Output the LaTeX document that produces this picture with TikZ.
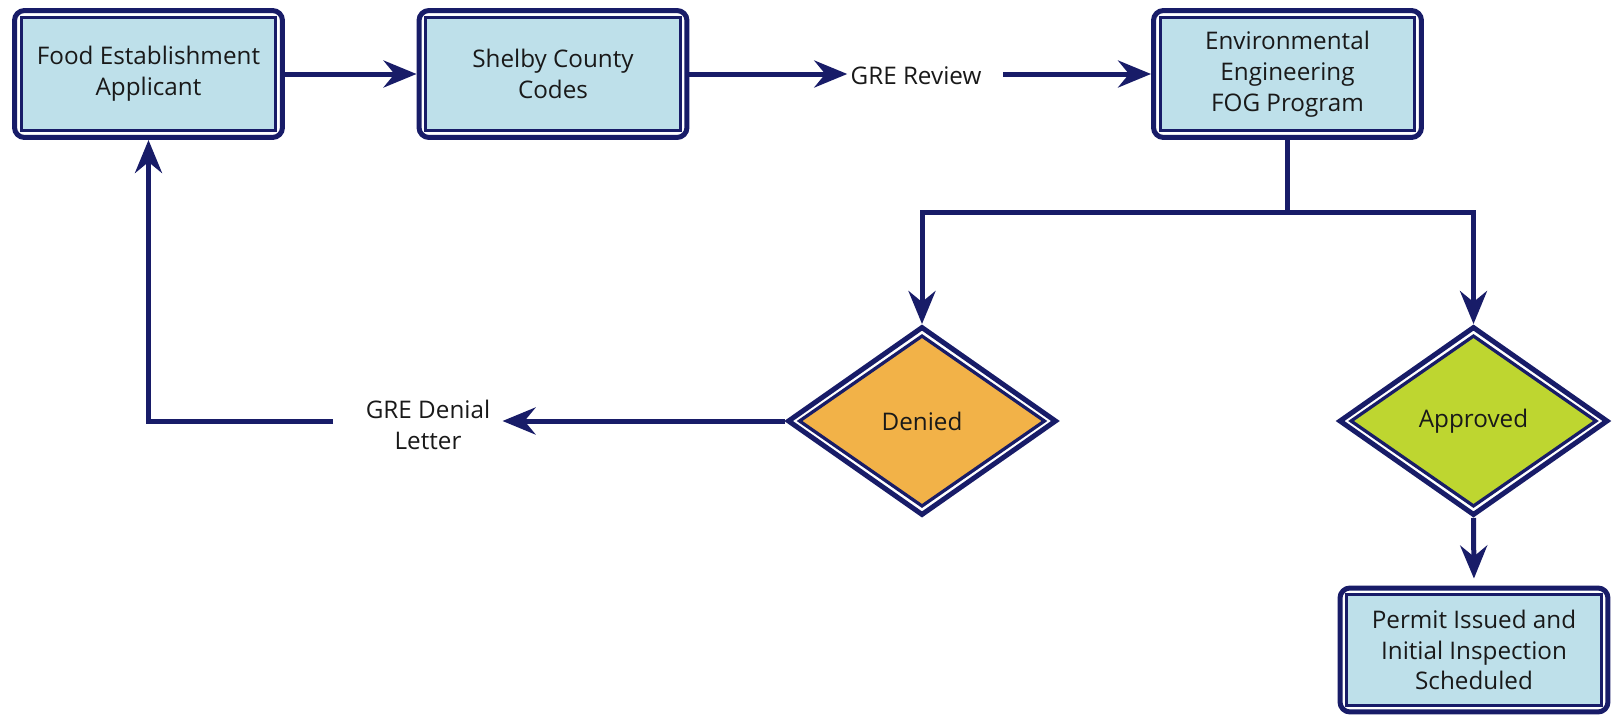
\documentclass[tikz,border=0pt]{standalone}
\usepackage{fontspec}
\setmainfont{Open Sans}
\usetikzlibrary{shapes.geometric,arrows.meta,calc}
\definecolor{navy}{RGB}{24,28,104}
\definecolor{boxblue}{RGB}{190,224,234}
\definecolor{deniedor}{RGB}{242,178,72}
\definecolor{approvedgr}{RGB}{190,214,48}
\definecolor{txt}{RGB}{25,25,25}
\begin{document}
\begin{tikzpicture}[x=0.02cm,y=-0.02cm,
  font=\fontsize{13.8}{17.5}\selectfont, text=txt,
  conn/.style={navy, line width=0.1cm},
  arr/.style={conn, -{Stealth[length=0.66cm,width=0.54cm,inset=0.22cm]}},
  lbl/.style={align=center, inner sep=0.06cm},
  procbox/.style={rectangle, rounded corners=0.2cm, draw=navy, line width=0.1cm, fill=white,
    minimum width=5.36cm, minimum height=2.54cm, align=center, inner sep=0pt,
    path picture={\draw[navy, line width=0.06cm, fill=boxblue, sharp corners]
      ([shift={(0.13cm,-0.13cm)}]path picture bounding box.north west) rectangle
      ([shift={(-0.13cm,0.13cm)}]path picture bounding box.south east);}},
  decision/.style={diamond, draw=navy, line width=0.1cm, fill=white, aspect=1.42,
    minimum width=5.38cm, minimum height=3.78cm, inner sep=0pt, align=center,
    path picture={\draw[navy, line width=0.065cm, fill=#1]
      ([xshift=0.22cm]path picture bounding box.west) --
      ([yshift=-0.17cm]path picture bounding box.north) --
      ([xshift=-0.22cm]path picture bounding box.east) --
      ([yshift=0.17cm]path picture bounding box.south) -- cycle;}}
]
\fill[white] (0,0) rectangle (1614,717);
\useasboundingbox (0,0) rectangle (1614,717);

\node[procbox] (app) at (148.5,74) {Food Establishment\\Applicant};
\node[procbox] (shelby) at (553,74) {Shelby County\\Codes};
\node[lbl] (gre) at (916,76) {GRE Review};
\coordinate (greout) at (1003,74);
\node[procbox] (env) at (1287.5,74) {Environmental\\Engineering\\FOG Program};
\coordinate (split) at (1287.5,212);
\node[decision=deniedor] (denied) at (922,421) {Denied};
\node[decision=approvedgr] (approved) at (1473.5,421) {Approved};
\node[procbox, minimum height=2.48cm] (permit) at (1474,650) {Permit Issued and\\Initial Inspection\\Scheduled};
\node[lbl, inner xsep=0.24cm] (letter) at (428,425) {GRE Denial\\Letter};
\coordinate (ret) at (333,421);

\draw[arr] (app) -- (shelby);
\draw[arr] (shelby.east) -- (shelby.east -| gre.west);
\draw[arr] (greout) -- (env);
\draw[conn] (env.south) -- (split);
\draw[arr] (split) -| (denied.north);
\draw[arr] (split) -| (approved.north);
\draw[arr] (denied.west) -- (denied.west -| letter.east);
\draw[arr] (ret) -| (app.south);
\draw[arr, shorten >=0.14cm] (approved.south) -- (permit.north);
\end{tikzpicture}
\end{document}
